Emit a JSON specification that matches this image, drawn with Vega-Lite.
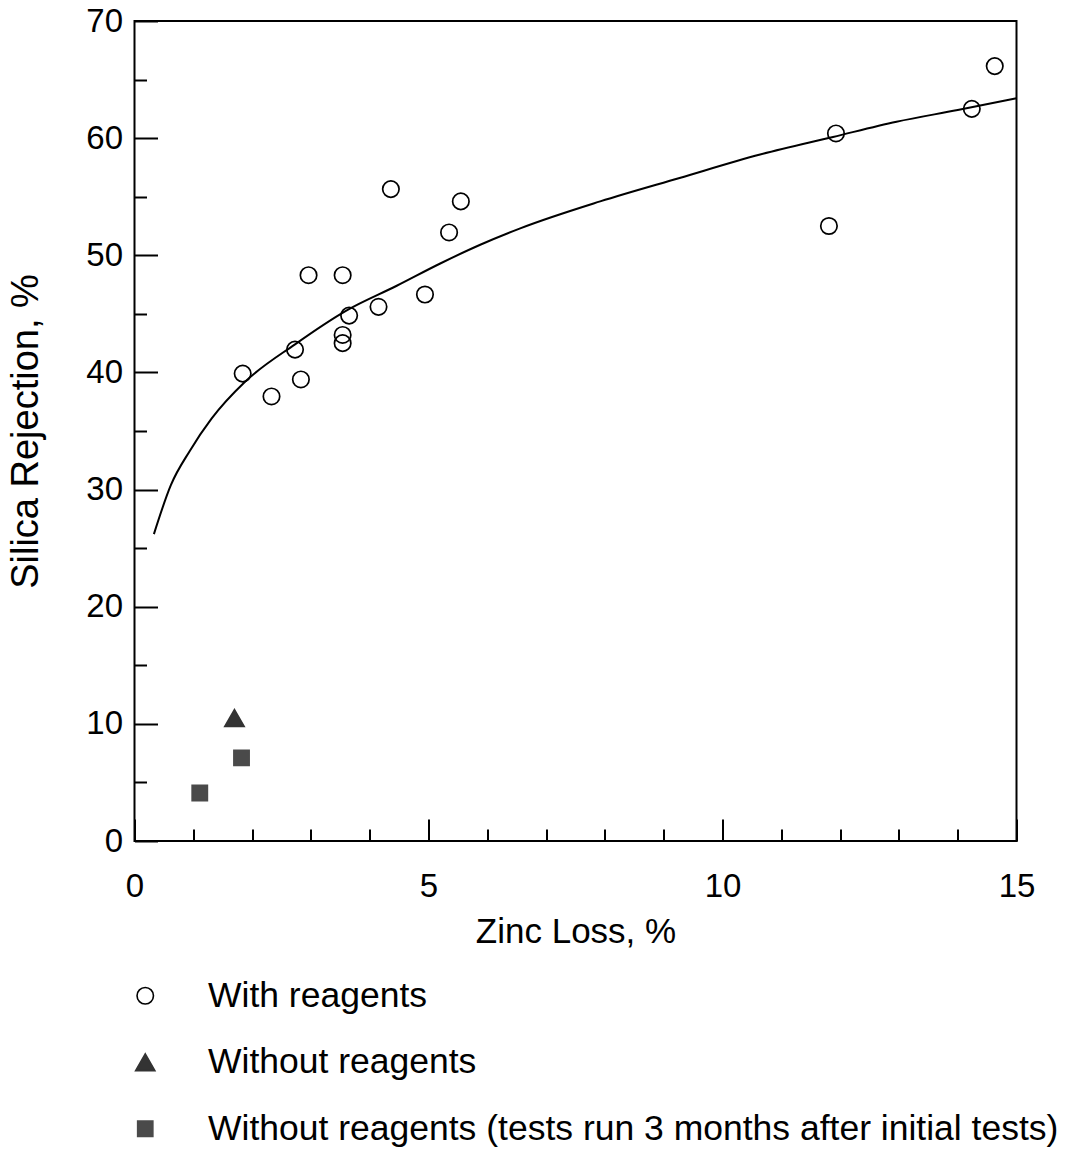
{
  "$schema": "https://vega.github.io/schema/vega-lite/v6.json",
  "width": 882,
  "height": 820,
  "autosize": {"type": "none"},
  "padding": {"left": 134.5, "top": 21, "right": 49.5, "bottom": 310},
  "background": "white",
  "config": {
    "view": {"stroke": "black", "strokeWidth": 2},
    "font": "Liberation Sans",
    "axis": {
      "domain": false,
      "grid": false,
      "tickColor": "black",
      "tickWidth": 2,
      "labelColor": "black",
      "titleColor": "black",
      "labelFont": "Liberation Sans",
      "titleFont": "Liberation Sans",
      "labelFontSize": 33,
      "titleFontSize": 35,
      "titleFontWeight": "normal",
      "labelOverlap": false,
      "labelFlush": false
    },
    "legend": {
      "labelFont": "Liberation Sans",
      "labelFontSize": 35.5,
      "labelColor": "black",
      "padding": 0
    }
  },
  "datasets": {
    "points": [
      {"x": 1.84, "y": 39.9, "series": "With reagents"},
      {"x": 2.33, "y": 37.95, "series": "With reagents"},
      {"x": 2.73, "y": 41.95, "series": "With reagents"},
      {"x": 2.83, "y": 39.4, "series": "With reagents"},
      {"x": 2.96, "y": 48.3, "series": "With reagents"},
      {"x": 3.54, "y": 48.3, "series": "With reagents"},
      {"x": 3.54, "y": 43.2, "series": "With reagents"},
      {"x": 3.54, "y": 42.5, "series": "With reagents"},
      {"x": 3.65, "y": 44.85, "series": "With reagents"},
      {"x": 4.15, "y": 45.6, "series": "With reagents"},
      {"x": 4.36, "y": 55.65, "series": "With reagents"},
      {"x": 4.94, "y": 46.65, "series": "With reagents"},
      {"x": 5.35, "y": 51.95, "series": "With reagents"},
      {"x": 5.55, "y": 54.6, "series": "With reagents"},
      {"x": 11.81, "y": 52.5, "series": "With reagents"},
      {"x": 11.93, "y": 60.4, "series": "With reagents"},
      {"x": 14.24, "y": 62.5, "series": "With reagents"},
      {"x": 14.63, "y": 66.15, "series": "With reagents"},
      {"x": 1.7, "y": 10.5, "series": "Without reagents"},
      {"x": 1.11, "y": 4.1, "series": "Without reagents (tests run 3 months after initial tests)"},
      {"x": 1.82, "y": 7.1, "series": "Without reagents (tests run 3 months after initial tests)"}
    ],
    "curve": [
      {"x": 0.33, "y": 26.2},
      {"x": 0.62, "y": 30.4},
      {"x": 0.94, "y": 33.3},
      {"x": 1.31, "y": 36.05},
      {"x": 1.88, "y": 39.2},
      {"x": 2.73, "y": 42.4},
      {"x": 3.61, "y": 45.3},
      {"x": 4.46, "y": 47.4},
      {"x": 5.2, "y": 49.3},
      {"x": 5.88, "y": 50.9},
      {"x": 6.56, "y": 52.3},
      {"x": 7.92, "y": 54.6},
      {"x": 9.27, "y": 56.6},
      {"x": 10.64, "y": 58.6},
      {"x": 11.88, "y": 60.1},
      {"x": 12.96, "y": 61.4},
      {"x": 14.0, "y": 62.4},
      {"x": 15.0, "y": 63.4}
    ]
  },
  "encoding": {
    "x": {
      "field": "x",
      "type": "quantitative",
      "scale": {"domain": [0, 15], "nice": false, "zero": false},
      "axis": {
        "values": [0,1,2,3,4,5,6,7,8,9,10,11,12,13,14,15],
        "labelExpr": "datum.value % 5 === 0 ? datum.label : ''",
        "tickSize": {"condition": {"test": "datum.value % 5 === 0", "value": -22}, "value": -12},
        "labelPadding": 51,
        "title": "Zinc Loss, %",
        "titleX": 441,
        "titleY": 101,
        "titleBaseline": "alphabetic"
      }
    },
    "y": {
      "field": "y",
      "type": "quantitative",
      "scale": {"domain": [0, 70], "nice": false, "zero": false},
      "axis": {
        "values": [0,5,10,15,20,25,30,35,40,45,50,55,60,65,70],
        "labelExpr": "datum.value % 10 === 0 ? datum.label : ''",
        "tickSize": {"condition": {"test": "datum.value % 10 === 0", "value": -23}, "value": -12},
        "labelPadding": 35,
        "title": "Silica Rejection, %",
        "titleFontSize": 38,
        "titleX": -97,
        "titleY": 410,
        "titleBaseline": "alphabetic"
      }
    }
  },
  "layer": [
    {
      "data": {"name": "curve"},
      "mark": {"type": "line", "color": "black", "strokeWidth": 2, "interpolate": "monotone"}
    },
    {
      "data": {"name": "points"},
      "mark": {"type": "point", "filled": true, "strokeWidth": 1.7, "opacity": 1},
      "encoding": {
        "shape": {
          "field": "series",
          "type": "nominal",
          "scale": {
            "domain": ["With reagents", "Without reagents", "Without reagents (tests run 3 months after initial tests)"],
            "range": ["circle", "triangle-up", "square"]
          },
          "legend": {
            "title": null,
            "orient": "none",
            "legendX": -7,
            "legendY": 957,
            "labelOffset": 45,
            "rowPadding": 29.5,
            "symbolStrokeWidth": 1.6,
            "labelLimit": 0
          }
        },
        "fill": {
          "field": "series",
          "type": "nominal",
          "scale": {
            "domain": ["With reagents", "Without reagents", "Without reagents (tests run 3 months after initial tests)"],
            "range": ["transparent", "#333333", "#4a4a4a"]
          }
        },
        "stroke": {
          "field": "series",
          "type": "nominal",
          "scale": {
            "domain": ["With reagents", "Without reagents", "Without reagents (tests run 3 months after initial tests)"],
            "range": ["black", "#333333", "#4a4a4a"]
          }
        },
        "size": {
          "field": "series",
          "type": "nominal",
          "scale": {
            "type": "ordinal",
            "domain": ["With reagents", "Without reagents", "Without reagents (tests run 3 months after initial tests)"],
            "range": [270, 370, 230]
          }
        }
      }
    }
  ]
}
